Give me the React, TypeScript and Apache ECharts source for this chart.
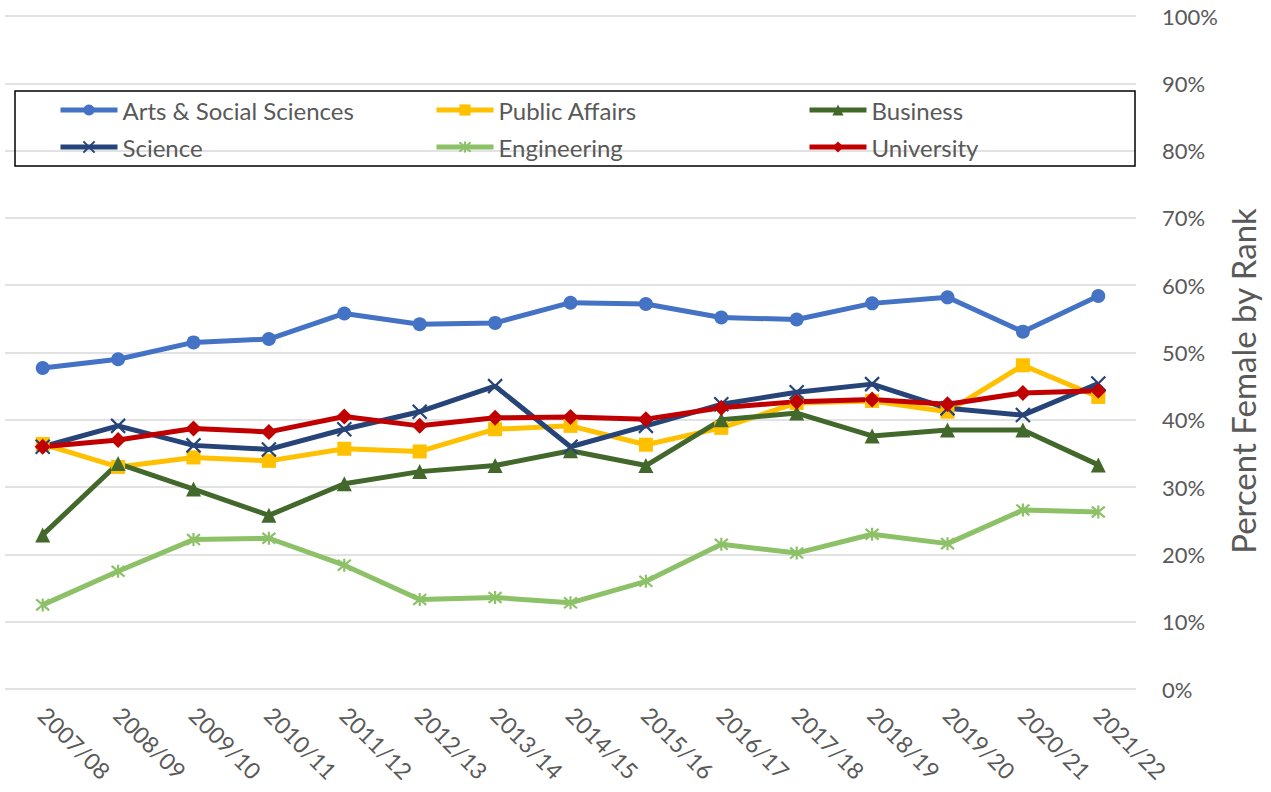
import React, { useEffect, useRef } from "react";
import * as echarts from "echarts";

const categories = [
  "2007/08", "2008/09", "2009/10", "2010/11", "2011/12", "2012/13", "2013/14", "2014/15",
  "2015/16", "2016/17", "2017/18", "2018/19", "2019/20", "2020/21", "2021/22",
];
const artsSocial = [47.7, 49.0, 51.5, 52.0, 55.8, 54.2, 54.4, 57.4, 57.2, 55.2, 54.9, 57.3, 58.2, 53.1, 58.4];
const publicAffairs = [36.4, 33.0, 34.4, 33.9, 35.7, 35.3, 38.6, 39.1, 36.3, 38.8, 42.5, 42.8, 41.2, 48.1, 43.4];
const business = [22.9, 33.5, 29.7, 25.8, 30.5, 32.3, 33.2, 35.4, 33.2, 40.0, 41.0, 37.6, 38.5, 38.5, 33.3];
const science = [36.0, 39.1, 36.2, 35.6, 38.6, 41.2, 45.0, 36.0, 39.1, 42.3, 44.1, 45.3, 41.7, 40.7, 45.4];
const engineering = [12.5, 17.5, 22.2, 22.4, 18.4, 13.3, 13.6, 12.8, 16.0, 21.5, 20.2, 23.0, 21.6, 26.6, 26.3];
const university = [36.0, 37.0, 38.7, 38.2, 40.5, 39.1, 40.3, 40.4, 40.1, 41.8, 42.7, 43.0, 42.3, 44.0, 44.3];
const yTicks = [0, 10, 20, 30, 40, 50, 60, 70, 80, 90, 100];

const FONT = "Lato, 'Noto Sans', sans-serif";
const GREY = "#595959";

export default function App() {
  const ref = useRef<HTMLDivElement>(null);
  useEffect(() => {
    if (!ref.current) return;
    const chart = echarts.init(ref.current, undefined, { renderer: "svg" });
    const xSym = "path://M0,0L10,10M10,0L0,10";
    const starSym = "path://M0,0L10,10M10,0L0,10M5,-1L5,11";
    const defs = [
      { name: "Arts & Social Sciences", data: artsSocial, color: "#4472C4", symbol: "circle", size: 14, stroke: false },
      { name: "Public Affairs", data: publicAffairs, color: "#FFC000", symbol: "rect", size: 14, stroke: false },
      { name: "Business", data: business, color: "#43682B", symbol: "triangle", size: 15, stroke: false },
      { name: "Science", data: science, color: "#264478", symbol: xSym, size: 14, stroke: true },
      { name: "Engineering", data: engineering, color: "#8CC168", symbol: starSym, size: 13, stroke: true },
      { name: "University", data: university, color: "#C00000", symbol: "diamond", size: 16, stroke: false },
    ];
    const series = defs.map((d) => ({
      name: d.name,
      type: "line",
      data: d.data,
      symbol: d.symbol,
      symbolSize: d.size,
      showSymbol: true,
      lineStyle: { color: d.color, width: 5 },
      itemStyle: d.stroke
        ? { color: "rgba(0,0,0,0)", borderColor: d.color, borderWidth: 2.2 }
        : { color: d.color, borderWidth: 0 },
      emphasis: { disabled: true },
      z: 2,
    }));
    const colX = [58, 434, 807];
    const rowY = [97, 134];
    const legends = defs.map((d, i) => ({
      data: [d.name],
      left: colX[i % 3],
      top: rowY[Math.floor(i / 3)],
      selectedMode: false,
      itemWidth: 57,
      itemHeight: 14,
      padding: 0,
      lineStyle: { width: 5 },
      textStyle: { fontFamily: FONT, fontSize: 24, color: GREY, lineHeight: 26 },
    }));
    chart.setOption({
      animation: false,
      backgroundColor: "#ffffff",
      textStyle: { fontFamily: FONT },
      grid: { left: 5, right: 135, top: 16, bottom: 103, containLabel: false },
      legend: legends,
      xAxis: {
        type: "category",
        data: categories,
        boundaryGap: true,
        axisLine: { show: false },
        axisTick: { show: false },
        axisLabel: { rotate: -45, margin: 22, fontSize: 23, color: GREY, fontFamily: FONT, interval: 0 },
        splitLine: { show: false },
      },
      yAxis: {
        type: "value",
        position: "right",
        min: yTicks[0],
        max: yTicks[yTicks.length - 1],
        interval: 10,
        axisLine: { show: false },
        axisTick: { show: false },
        axisLabel: { formatter: "{value}%", margin: 26, fontSize: 22, color: GREY, fontFamily: FONT, align: "left" },
        splitLine: { lineStyle: { color: "#D9D9D9", width: 1.5 } },
      },
      graphic: [
        {
          type: "rect",
          shape: { x: 15, y: 91, width: 1120, height: 75 },
          style: { fill: "rgba(0,0,0,0)", stroke: "#000000", lineWidth: 1.5 },
          z: 1,
          silent: true,
        },
        {
          type: "text",
          x: 1243,
          y: 381,
          rotation: Math.PI / 2,
          style: {
            text: "Percent Female by Rank",
            fontSize: 33,
            fontFamily: FONT,
            fill: GREY,
            align: "center",
            verticalAlign: "middle",
          },
          silent: true,
        },
      ],
      series,
    });
    return () => chart.dispose();
  }, []);
  return (
    <div
      ref={ref}
      style={{ position: "fixed", left: 0, top: 0, width: 1271, height: 792, background: "#fff" }}
    />
  );
}
